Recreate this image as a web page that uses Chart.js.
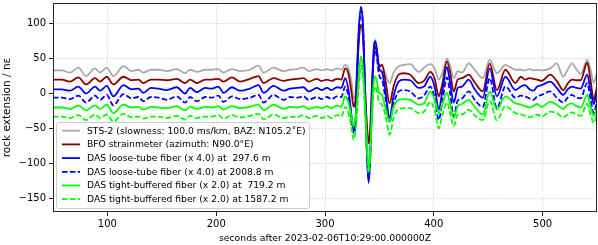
<!DOCTYPE html>
<html><head><meta charset="utf-8">
<script src="https://cdn.jsdelivr.net/npm/chart.js@4/dist/chart.umd.min.js"></script>
<style>html,body{margin:0;padding:0;background:#fff;overflow:hidden}canvas{display:block}</style>
</head><body>
<canvas id="c" width="598" height="245"></canvas>
<script>
// ---- data (seconds, nε) ----
const times = [50, 58, 65.6, 73.3, 80.4, 88.6, 93.2, 99.4, 105.5, 114.7,
  122.4, 128.5, 133, 140, 147, 154.6, 163.8, 171.4, 176, 182.2,
  190, 196, 202, 206.7, 214.4, 222, 231, 238.9, 243.5, 252.7,
  261.9, 268, 274, 280.3, 284.9, 292.6, 297, 301.8, 306, 311,
  315, 318.6, 321.6, 324.5, 326.3, 328, 329.6, 331.2, 333.1, 335,
  337, 338.6, 340.1, 341.7, 343.2, 344.7, 346.2, 347.8, 349.3, 350.8,
  352.4, 355.4, 359.4, 363, 367.7, 372.3, 378.4, 386, 391, 396.8,
  401, 404.5, 408, 412, 415, 418.3, 422, 426, 432, 438,
  445, 451.4, 458, 465.8, 475, 480, 484, 488, 491.6, 495,
  499, 507, 513, 519, 523, 527, 531, 535, 541, 544, 547, 550];

const sts2 = [33, 33, 30, 37, 25, 36, 30, 37, 25, 39,
  32, 34, 30, 34, 34, 32, 35, 29, 34, 31,
  34, 34, 35, 30, 35, 32, 34, 40, 30, 37,
  32, 34, 35, 37, 32, 35, 33, 35, 33, 36,
  34, 41, 35, 15, -7, -2, 40, 80, 95, 80,
  0, -50, -72, -48, 10, 55, 77, 60, 44, 41,
  41, 28, 15, 30, 39, 41, 42, 31, 37, 42,
  35, 20, 30, 50, 40, 22, 32, 30, 43, 33,
  22, 48, 29, 41, 34, 34, 33, 35, 33, 34,
  33, 36, 43, 24, 34, 43, 35, 28, 48, 35, 15, 30];

const bfo = [20, 20, 17, 23, 13, 22, 17, 24, 13, 24,
  19, 20, 15, 20, 20, 19, 21, 15, 20, 15,
  20, 20, 21, 17, 23, 17, 21, 25, 15, 22,
  18, 20, 21, 22, 17, 21, 18, 20, 18, 21,
  20, 36, 28, 0, -19, -9, 30, 77, 98, 82,
  1, -47, -71, -47, 10, 53, 67, 57, 41, 39,
  41, 20, -14, 10, 27, 29, 27, 15, 18, 31,
  20, -4, 15, 46, 30, 3, 20, 22, 27, 15,
  3, 43, 5, 34, 15, 24, 20, 22, 21, 20,
  18, 27, 18, 5, 14, 20, 19, 19, 44, 20, -9, 10];

const looseTube297 = [6, 6, 4, 10, 0, 10, 4, 11, -4, 12,
  6, 7, 1, 8, 7, 5, 9, 0, 8, 2,
  8, 7, 10, 1, 9, 4, 7, 12, 1, 11,
  4, 7, 8, 9, 3, 8, 5, 8, 5, 9,
  8, 22, 5, -33, -52, -39, 39, 96, 124, 96,
  -9, -90, -128, -86, 1, 62, 75, 62, 39, 33,
  31, 5, -35, -4, 17, 20, 19, 8, 10, 24,
  8, -23, 5, 38, 15, -13, 8, 10, 20, 5,
  -6, 36, -4, 24, 5, 10, 12, 6, 4, 10,
  12, 17, 8, -2, 6, 10, 8, 7, 27, 5, -15, 5];

const looseTube2008 = [-6, -6, -8, -3, -13, -3, -9, -2, -17, -1,
  -7, -5, -11, -5, -6, -9, -4, -13, -5, -11,
  -5, -6, -3, -12, -4, -8, -6, -2, -13, -2,
  -9, -5, -6, -4, -9, -5, -8, -5, -8, -4,
  -5, 10, -5, -40, -57, -45, 30, 90, 118, 92,
  -12, -88, -122, -84, -5, 50, 62, 50, 30, 22,
  20, -5, -40, -15, 3, 5, 3, -7, -3, 10,
  -8, -38, -10, 23, 0, -33, -10, -7, 3, -10,
  -19, 22, -21, 10, -6, -3, -4, -7, -9, -4,
  -2, 3, -6, -13, -6, -2, -6, -7, 15, -8, -28, -10];

const tight719 = [-20, -20, -22, -17, -24, -17, -22, -16, -28, -16,
  -20, -19, -23, -19, -20, -21, -18, -24, -19, -22,
  -19, -20, -18, -23, -18, -21, -19, -16, -24, -16,
  -22, -19, -20, -18, -22, -19, -21, -18, -21, -17,
  -19, -4, -13, -35, -47, -35, -9, 29, 53, 33,
  -23, -71, -107, -81, -23, 15, 24, 17, 3, 0,
  -2, -19, -40, -19, -9, -8, -9, -16, -14, 3,
  -10, -28, -15, 1, -15, -35, -18, -15, -9, -20,
  -30, 3, -23, -4, -14, -16, -18, -20, -18, -15,
  -19, -12, -16, -22, -16, -14, -18, -20, -2, -18, -32, -20];

const tight1587 = [-33, -33, -35, -31, -38, -30, -35, -30, -40, -29,
  -34, -33, -36, -33, -33, -35, -32, -37, -32, -35,
  -33, -33, -31, -36, -31, -34, -32, -29, -37, -30,
  -35, -33, -34, -31, -35, -32, -35, -32, -35, -31,
  -33, -19, -28, -50, -66, -55, -25, 15, 40, 22,
  -30, -80, -114, -88, -35, 0, 10, 3, -10, -14,
  -16, -30, -59, -35, -22, -21, -21, -28, -26, -12,
  -25, -50, -30, -13, -28, -47, -30, -30, -23, -32,
  -38, -11, -38, -18, -28, -30, -32, -34, -32, -30,
  -33, -26, -28, -34, -30, -27, -30, -32, -15, -30, -42, -30];

const seriesLabels = [
  'STS-2 (slowness: 100.0 ms/km, BAZ: N105.2\u02DAE)',
  'BFO strainmeter (azimuth: N90.0°E)',
  'DAS loose-tube fiber (x 4.0) at  297.6 m',
  'DAS loose-tube fiber (x 4.0) at 2008.8 m',
  'DAS tight-buffered fiber (x 2.0) at  719.2 m',
  'DAS tight-buffered fiber (x 2.0) at 1587.2 m'
];
const xTickValues = [100, 200, 300, 400, 500];
const yTickValues = [-150, -100, -50, 0, 50, 100];
const xTitle = 'seconds after 2023-02-06T10:29:00.000000Z';
const yTitle = 'rock extension / n\u03B5';

// ---- styles ----
const FONT = "'DejaVu Sans', sans-serif";
const styles = [
  {color: '#a9a9a9', dash: []},
  {color: '#8b0000', dash: []},
  {color: '#0000ff', dash: []},
  {color: '#0000ff', dash: [5.5, 2.4]},
  {color: '#00ff00', dash: []},
  {color: '#00ff00', dash: [5.5, 2.4]}
];
const allSeries = [sts2, bfo, looseTube297, looseTube2008, tight719, tight1587];

const datasets = allSeries.map((vals, i) => ({
  label: seriesLabels[i],
  data: times.map((t, j) => ({x: t, y: vals[j]})),
  borderColor: styles[i].color,
  borderDash: styles[i].dash,
  borderWidth: 1.8,
  pointRadius: 0,
  fill: false,
  cubicInterpolationMode: 'monotone',
  order: allSeries.length - i
}));

const framePlugin = {
  id: 'frame',
  afterDatasetsDraw(chart) {
    const {ctx, chartArea: a} = chart;
    ctx.save();
    ctx.strokeStyle = '#262626';
    ctx.lineWidth = 1;
    ctx.setLineDash([]);
    const l = Math.round(a.left) + 0.5, t = Math.round(a.top) + 0.5;
    const r = Math.round(a.right) - 0.5, b = Math.round(a.bottom) - 0.5;
    ctx.strokeRect(l, t, r - l, b - t);
    ctx.restore();
  }
};

const legendPlugin = {
  id: 'innerLegend',
  afterDraw(chart) {
    const ctx = chart.ctx;
    const x0 = 56.5, y0 = 122.5, w = 253, h = 86, rad = 2.5;
    ctx.save();
    ctx.beginPath();
    ctx.moveTo(x0 + rad, y0);
    ctx.lineTo(x0 + w - rad, y0);
    ctx.quadraticCurveTo(x0 + w, y0, x0 + w, y0 + rad);
    ctx.lineTo(x0 + w, y0 + h - rad);
    ctx.quadraticCurveTo(x0 + w, y0 + h, x0 + w - rad, y0 + h);
    ctx.lineTo(x0 + rad, y0 + h);
    ctx.quadraticCurveTo(x0, y0 + h, x0, y0 + h - rad);
    ctx.lineTo(x0, y0 + rad);
    ctx.quadraticCurveTo(x0, y0, x0 + rad, y0);
    ctx.closePath();
    ctx.fillStyle = 'rgba(255,255,255,0.8)';
    ctx.fill();
    ctx.strokeStyle = '#cccccc';
    ctx.lineWidth = 1;
    ctx.stroke();
    ctx.font = '9.2px ' + FONT;
    ctx.textBaseline = 'middle';
    ctx.textAlign = 'left';
    chart.data.datasets.forEach((ds, i) => {
      const cy = 130.7 + i * 13.7;
      ctx.beginPath();
      ctx.strokeStyle = ds.borderColor;
      ctx.lineWidth = ds.borderWidth;
      ctx.setLineDash(ds.borderDash || []);
      ctx.moveTo(62, cy);
      ctx.lineTo(80, cy);
      ctx.stroke();
      ctx.setLineDash([]);
      ctx.fillStyle = '#000';
      ctx.fillText(ds.label, 87, cy + 0.5);
    });
    ctx.restore();
  }
};

const gridOpts = {color: '#c8c8c8', lineWidth: 0.8, tickColor: '#262626', tickLength: 4, tickWidth: 1, tickBorderDash: []};
const borderOpts = {display: false, dash: [1.2, 1.6]};

new Chart(document.getElementById('c'), {
  type: 'line',
  data: {datasets},
  options: {
    responsive: false,
    animation: false,
    devicePixelRatio: 1,
    layout: {autoPadding: false, padding: {top: 3, right: 1, left: 0, bottom: 0}},
    plugins: {legend: {display: false}, tooltip: {enabled: false}},
    scales: {
      x: {
        type: 'linear', min: 50, max: 550,
        afterBuildTicks: s => { s.ticks = xTickValues.map(v => ({value: v})); },
        afterFit: s => { s.height = 33; s.paddingLeft = 0; s.paddingRight = 0; },
        grid: gridOpts,
        border: borderOpts,
        ticks: {color: '#000', font: {family: FONT, size: 10}, padding: 2, maxRotation: 0,
          callback: v => String(v)},
        title: {display: true, text: xTitle, color: '#000', font: {family: FONT, size: 9.3}, padding: {top: 0, bottom: 1}}
      },
      y: {
        type: 'linear', min: -169.5, max: 129.5,
        afterBuildTicks: s => { s.ticks = yTickValues.map(v => ({value: v})); },
        afterFit: s => { s.width = 53; s.paddingTop = 0; s.paddingBottom = 0; },
        grid: gridOpts,
        border: borderOpts,
        ticks: {color: '#000', font: {family: FONT, size: 10}, padding: 3,
          callback: v => (v < 0 ? '\u2212' + Math.abs(v) : String(v))},
        title: {display: true, text: yTitle, color: '#000', font: {family: FONT, size: 10.5}, padding: {top: 1, bottom: 0}}
      }
    }
  },
  plugins: [framePlugin, legendPlugin]
});
</script>
</body></html>
